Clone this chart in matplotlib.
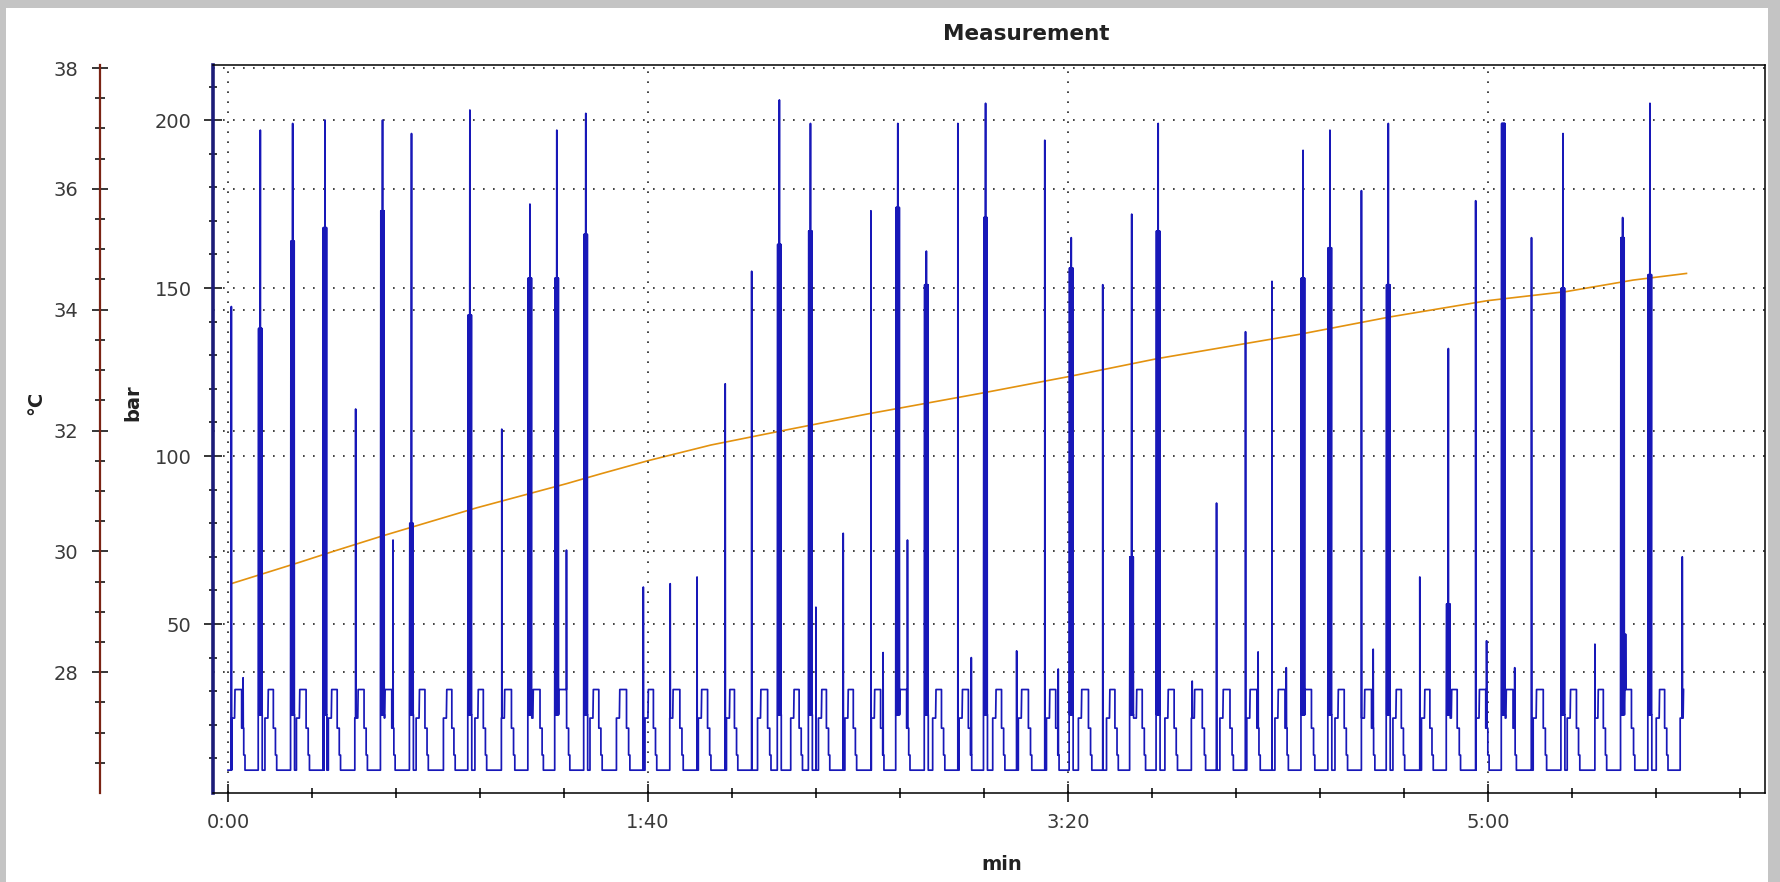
import numpy as np
import matplotlib
matplotlib.use('Agg')
import matplotlib.pyplot as plt
from matplotlib.patches import Rectangle
from matplotlib.ticker import FixedLocator

# Plateau start / end of every pressure cycle (s)
CYCLE_START = [1.67, 9.6, 17.1, 24.7, 31.0, 37.4, 45.6, 52.1, 59.6, 65.9,
               72.7, 78.6, 87.0, 93.3, 100.1, 106.0, 112.8, 119.5, 126.9, 134.8,
               141.4, 147.7, 154.0, 160.0, 168.6, 174.9, 182.9, 189.0, 195.7, 203.3,
               210.0, 216.4, 223.9, 230.2, 237.0, 243.4, 250.1, 256.4, 264.4, 270.7,
               278.2, 285.0, 291.4, 298.0, 304.4, 311.6, 319.7, 326.3, 332.6, 340.9,
               346.6]
CYCLE_END = [3.25, 10.8, 18.6, 26.0, 32.4, 39.0, 46.9, 53.3, 60.8, 67.5,
             74.3, 80.6, 88.3, 94.9, 101.3, 107.6, 114.2, 120.6, 128.5, 136.0,
             142.5, 148.9, 155.4, 161.6, 169.9, 176.3, 184.2, 190.6, 197.1, 204.9,
             211.2, 217.7, 225.3, 232.0, 238.6, 245.0, 251.7, 258.0, 265.8, 272.3,
             279.4, 286.2, 292.7, 299.5, 306.0, 313.2, 321.1, 327.5, 334.2, 342.1,
             348.0]

# Pressure levels inside one cycle (bar)
BASE_LEVEL = 6.5
PRE_LEVEL = 22.0
PLATEAU_LEVEL = 30.5
DROP_LEVELS = [19.0, 11.0]
BURST_FLOOR = 23.0

# Pressure spikes: time (s), peak (bar), height of the dense burst (0 = thin line only)
SPIKE_TIMES = [0.8, 3.6, 7.7, 15.4, 22.8, 23.1, 30.4, 36.8, 39.3, 43.7,
               57.6, 65.2, 71.9, 78.3, 80.6, 85.2, 98.9, 105.3, 111.7, 118.4,
               124.7, 131.3, 138.7, 140.0, 146.5, 153.1, 156.0, 159.5, 161.8, 166.3,
               173.8, 177.0, 180.4, 187.8, 194.5, 197.7, 200.8, 208.3, 215.2, 221.5,
               229.6, 235.4, 242.3, 245.3, 248.6, 252.0, 256.0, 262.4, 269.9, 272.7,
               276.3, 283.8, 290.6, 297.1, 299.7, 303.7, 306.4, 310.4, 317.9, 325.5,
               332.1, 332.8, 338.6, 346.3]
SPIKE_PEAKS = [144.5, 34, 197, 199, 107, 200, 114, 200, 75, 196,
               203, 108, 175, 197, 72, 202, 61, 62, 64, 121.5,
               155, 206, 199, 55, 77, 173, 41.5, 199, 75, 161,
               199, 40, 205, 42, 194, 36.6, 165, 151, 172, 199,
               33, 86, 137, 41.7, 152, 37, 191, 197, 179, 42.5,
               199, 64, 132, 176, 45, 199, 37, 165, 196, 44,
               171, 47, 205, 70]
SPIKE_BURST = [0, 0, 138, 164, 0, 168, 0, 173, 0, 80,
               142, 0, 153, 153, 0, 166, 0, 0, 0, 0,
               0, 163, 167, 0, 0, 0, 0, 174, 0, 151,
               0, 0, 171, 0, 0, 0, 156, 0, 70, 167,
               0, 0, 0, 0, 0, 0, 153, 162, 0, 0,
               151, 0, 56, 0, 0, 199, 0, 0, 150, 0,
               165, 0, 154, 0]
END_TIME = 347.3

# Temperature curve (s, °C)
TEMP_TIMES = [1.0, 17.1, 25.1, 37.0, 59.2, 80.6, 88.6, 100.0, 115.0, 130.8,
              152.0, 179.6, 200.0, 221.3, 255.0, 276.7, 300.0, 318.7, 334.6, 347.3]
TEMP_VALUES = [29.47, 29.82, 30.00, 30.26, 30.72, 31.12, 31.28, 31.50, 31.76, 31.98,
               32.27, 32.62, 32.89, 33.19, 33.59, 33.88, 34.15, 34.30, 34.49, 34.60]

XTICKS = [0, 100, 200, 300]
XTICK_LABELS = ['0:00', '1:40', '3:20', '5:00']
BAR_TICKS = [50, 100, 150, 200]
TEMP_TICKS = [28, 30, 32, 34, 36, 38]

W, H = 1781, 882


def build_pressure():
    """
    Turns the cycle and spike tables into one step-like pressure trace.
    """
    ct, cv = [0.0], [BASE_LEVEL]
    for ps, pe in zip(CYCLE_START, CYCLE_END):
        ct += [ps - 0.8, ps - 0.8, ps - 0.1, ps, pe, pe, pe + 0.5, pe + 0.5, pe + 0.8, pe + 0.8]
        cv += [BASE_LEVEL, PRE_LEVEL, PRE_LEVEL, PLATEAU_LEVEL, PLATEAU_LEVEL,
               DROP_LEVELS[0], DROP_LEVELS[0], DROP_LEVELS[1], DROP_LEVELS[1], BASE_LEVEL]
    ct, cv = np.array(ct), np.array(cv)

    st, sv = [], []
    windows = []
    for ts, peak, burst in zip(SPIKE_TIMES, SPIKE_PEAKS, SPIKE_BURST):
        if burst:
            lo, hi = ts - 0.5, ts + 0.45
            st += [lo, lo]
            sv += [np.interp(lo - 1e-3, ct, cv), BURST_FLOOR]
            for off in (-0.4, -0.28, -0.16):
                st += [ts + off, ts + off + 0.05]
                sv += [burst, BURST_FLOOR]
            st += [ts, ts + 0.05]
            sv += [peak, BURST_FLOOR]
            for off in (0.12, 0.24, 0.36):
                st += [ts + off, ts + off + 0.04]
                sv += [burst, BURST_FLOOR]
            st += [hi, hi]
            sv += [BURST_FLOOR, np.interp(hi + 1e-3, ct, cv)]
        else:
            lo, hi = ts - 0.01, ts + 0.04
            st += [lo, ts, hi]
            sv += [np.interp(lo - 1e-3, ct, cv), peak, np.interp(hi + 1e-3, ct, cv)]
        windows.append((lo, hi))

    # drop cycle corners that fall inside a spike
    keep = np.ones(len(ct), dtype=bool)
    for lo, hi in windows:
        keep &= ~((ct >= lo) & (ct <= hi))

    t = np.concatenate([ct[keep], np.array(st)])
    v = np.concatenate([cv[keep], np.array(sv)])
    order = np.concatenate([np.arange(keep.sum()), np.arange(len(st)) + 0.5 + len(ct)])
    idx = np.lexsort((order, t))
    t, v = t[idx], v[idx]
    m = t <= END_TIME
    return t[m], v[m]


def plot_measurement():
    fig = plt.figure(figsize=(W / 100, H / 100), dpi=100)
    fig.patch.set_facecolor('#c4c4c4')
    fig.patches.append(Rectangle((6 / W, 0), 1762 / W, 874 / H, transform=fig.transFigure,
                                 facecolor='white', edgecolor='none', zorder=-5))

    left, right, top, bottom = 213.5, 1765, 65, 793
    ax = fig.add_axes([left / W, (H - bottom) / H, (right - left) / W, (bottom - top) / H])
    ax2 = ax.twinx()
    ax2.set_zorder(1)
    ax.set_zorder(2)
    ax.patch.set_visible(False)
    ax2.patch.set_facecolor('white')

    t, p = build_pressure()
    ax.plot(t, p, color='#1818b8', linewidth=1.25, zorder=3)
    ax2.plot(TEMP_TIMES, TEMP_VALUES, color='#e3920f', linewidth=1.2, zorder=2)

    ax.set_xlim(-3.45, 366)
    ax.set_ylim(-0.3, 216.4)
    ax2.set_ylim(26.0, 38.05)

    # x axis
    ax.xaxis.set_major_locator(FixedLocator(XTICKS))
    ax.set_xticklabels(XTICK_LABELS)
    ax.xaxis.set_minor_locator(FixedLocator(np.arange(20, 366, 20)))
    ax.tick_params(axis='x', which='major', direction='inout', length=13, width=1.1,
                   labelsize=14, labelcolor='#3a3a3a', pad=8)
    ax.tick_params(axis='x', which='minor', direction='inout', length=6.5, width=1.1)
    ax.tick_params(top=False, right=False, which='both')

    # bar axis
    ax.yaxis.set_major_locator(FixedLocator(BAR_TICKS))
    ax.yaxis.set_minor_locator(FixedLocator(np.arange(10, 216, 10)))
    ax.tick_params(axis='y', which='major', direction='inout', length=13, width=1.1,
                   labelsize=14, labelcolor='#3a3a3a', pad=9.2)
    ax.tick_params(axis='y', which='minor', direction='inout', length=5.8, width=1.1)

    # °C axis, pushed out to the left
    ax2.yaxis.tick_left()
    ax2.spines['left'].set_position(('outward', (left - 100) * 0.72))
    ax2.spines['left'].set_color('#7a2414')
    ax2.spines['left'].set_linewidth(1.6)
    for side in ('top', 'bottom', 'right'):
        ax2.spines[side].set_visible(False)
    ax2.yaxis.set_major_locator(FixedLocator(TEMP_TICKS))
    ax2.yaxis.set_minor_locator(FixedLocator(np.arange(26.5, 38, 0.5)))
    ax2.tick_params(axis='y', which='major', direction='inout', length=11.5, width=1.1,
                    labelsize=14, labelcolor='#3a3a3a', pad=10)
    ax2.tick_params(axis='y', which='minor', direction='inout', length=6.8, width=1.1)
    ax2.tick_params(axis='y', which='both', right=False, labelright=False,
                    left=True, labelleft=True)

    # spines of the main frame
    ax.spines['left'].set_color('#1c1c78')
    ax.spines['left'].set_linewidth(2.6)
    for side in ('top', 'right', 'bottom'):
        ax.spines[side].set_color('black')
        ax.spines[side].set_linewidth(1.1)

    # dotted grid
    dots = dict(color='#222222', linestyle=(0, (1, 5)), linewidth=1.2)
    ax.grid(True, which='major', **dots)
    ax2.yaxis.grid(True, which='major', **dots)
    ax2.xaxis.grid(False)

    fig.text(1026 / W, 1 - 34 / H, 'Measurement', ha='center', va='center',
             fontsize=15.5, fontweight='bold', color='#222222')
    fig.text(1002 / W, 1 - 865 / H, 'min', ha='center', va='center',
             fontsize=14, fontweight='bold', color='#222222')
    fig.text(133 / W, 1 - 403 / H, 'bar', ha='center', va='center', rotation=90,
             fontsize=14, fontweight='bold', color='#222222')
    fig.text(36 / W, 1 - 403 / H, '°C', ha='center', va='center', rotation=90,
             fontsize=14, fontweight='bold', color='#222222')

    fig.savefig('out.png', dpi=100, facecolor=fig.get_facecolor())


def main():
    plot_measurement()


if __name__ == "__main__":
    main()
